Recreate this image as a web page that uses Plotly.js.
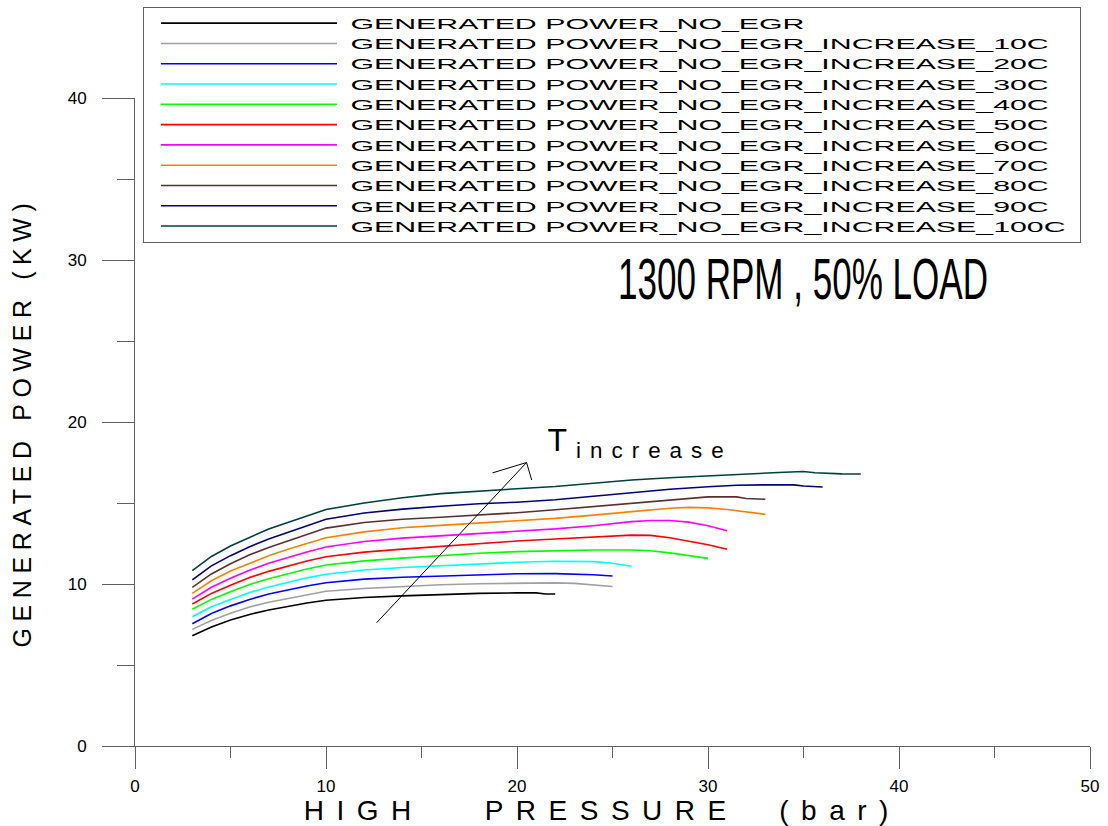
<!DOCTYPE html>
<html>
<head>
<meta charset="utf-8">
<script src="https://cdn.plot.ly/plotly-3.0.1.min.js"></script>
<style>
  html, body { margin: 0; padding: 0; background: #fff; }
  #chart { width: 1108px; height: 826px; }
  .legendtext { transform: scale(2.28, 1.12); transform-box: fill-box; transform-origin: 0 50%; }
  .xtitle { letter-spacing: 12.5px; }
  .ytitle { letter-spacing: 6.6px; }
  .annotation[data-index="0"] .annotation-text { transform: scaleX(0.615); transform-box: fill-box; transform-origin: 50% 50%; }
  .annotation[data-index="1"] .annotation-text { letter-spacing: 9px; }
</style>
</head>
<body>
<div id="chart"></div>
<script>
// ---- data ----
const seriesNames = [
  "GENERATED POWER_NO_EGR",
  "GENERATED POWER_NO_EGR_INCREASE_10C",
  "GENERATED POWER_NO_EGR_INCREASE_20C",
  "GENERATED POWER_NO_EGR_INCREASE_30C",
  "GENERATED POWER_NO_EGR_INCREASE_40C",
  "GENERATED POWER_NO_EGR_INCREASE_50C",
  "GENERATED POWER_NO_EGR_INCREASE_60C",
  "GENERATED POWER_NO_EGR_INCREASE_70C",
  "GENERATED POWER_NO_EGR_INCREASE_80C",
  "GENERATED POWER_NO_EGR_INCREASE_90C",
  "GENERATED POWER_NO_EGR_INCREASE_100C"
];
const seriesColors = ["#000000","#a0a0a0","#0000ff","#00ffff","#00ff00","#ff0000","#ff00ff","#ff8000","#5c3030","#000080","#004040"];

const xNoEgr = [3,4,5,6,7,8,9,10,12,14,16,18,20,21,21.5,22];
const yNoEgr = [6.81,7.35,7.78,8.12,8.4,8.62,8.83,9.0,9.17,9.27,9.35,9.42,9.45,9.45,9.38,9.38];

const x10C = [3,4,5,6,7,8,9,10,12,14,16,18,20,22,23,24,25];
const y10C = [7.2,7.75,8.2,8.58,8.87,9.1,9.32,9.55,9.72,9.85,9.95,10.02,10.05,10.07,10.04,9.95,9.85];

const x20C = [3,4,5,6,7,8,9,10,12,14,16,18,20,22,23,24,25];
const y20C = [7.55,8.18,8.65,9.05,9.38,9.65,9.88,10.08,10.3,10.42,10.5,10.57,10.63,10.64,10.62,10.57,10.49];

const x30C = [3,4,5,6,7,8,9,10,12,14,16,18,20,22,24,25,26];
const y30C = [7.98,8.6,9.05,9.47,9.82,10.12,10.38,10.6,10.86,11.02,11.14,11.24,11.34,11.4,11.38,11.28,11.1];

const x40C = [3,4,5,6,7,8,9,10,12,14,16,18,20,22,24,26,27,28,29,30];
const y40C = [8.44,9.05,9.52,9.97,10.33,10.65,10.93,11.17,11.43,11.6,11.75,11.9,12.0,12.07,12.1,12.1,12.05,11.92,11.75,11.58];

const x50C = [3,4,5,6,7,8,9,10,12,14,16,18,20,22,24,26,27,28,29,30,31];
const y50C = [8.77,9.42,9.92,10.4,10.78,11.12,11.42,11.68,11.97,12.15,12.32,12.47,12.65,12.78,12.9,13.02,13.0,12.85,12.64,12.42,12.14];

const x60C = [3,4,5,6,7,8,9,10,12,14,16,18,20,22,24,26,27,28,29,30,31];
const y60C = [9.07,9.8,10.35,10.85,11.28,11.65,11.98,12.28,12.62,12.83,12.98,13.1,13.25,13.4,13.6,13.85,13.92,13.92,13.82,13.6,13.29];

const x70C = [3,4,5,6,7,8,9,10,12,14,16,18,20,22,24,26,28,29,30,31,32,33];
const y70C = [9.42,10.2,10.8,11.3,11.75,12.15,12.5,12.85,13.22,13.47,13.62,13.75,13.9,14.05,14.25,14.48,14.68,14.73,14.7,14.6,14.45,14.3];

const x80C = [3,4,5,6,7,8,9,10,12,14,16,18,20,22,24,26,28,29,30,31,31.5,32,33];
const y80C = [9.79,10.62,11.25,11.8,12.25,12.65,13.05,13.45,13.8,14.0,14.12,14.25,14.4,14.58,14.78,15.0,15.2,15.32,15.38,15.39,15.38,15.28,15.23];

const x90C = [3,4,5,6,7,8,9,10,12,14,16,18,20,22,24,26,28,30,31.5,33,34.5,35,36];
const y90C = [10.25,11.12,11.75,12.3,12.78,13.2,13.6,14.0,14.38,14.62,14.8,14.95,15.05,15.2,15.42,15.65,15.85,16.0,16.1,16.12,16.12,16.05,15.99];

const x100C = [3,4,5,6,7,8,9,10,12,14,16,18,20,22,24,26,28,30,32,33,34,35,35.6,37,38];
const y100C = [10.82,11.7,12.35,12.9,13.4,13.8,14.2,14.6,15.0,15.32,15.58,15.75,15.88,16.02,16.22,16.42,16.56,16.68,16.8,16.87,16.9,16.94,16.87,16.8,16.79];

const seriesX = [xNoEgr,x10C,x20C,x30C,x40C,x50C,x60C,x70C,x80C,x90C,x100C];
const seriesY = [yNoEgr,y10C,y20C,y30C,y40C,y50C,y60C,y70C,y80C,y90C,y100C];

const xTickVals = [0,10,20,30,40,50];
const yTickVals = [0,10,20,30,40];

// arrow ("T increase") in data units: tail, head, two barbs
const arrowTail = [12.65, 7.61];
const arrowHead = [20.5, 17.5];
const arrowBarbA = [18.72, 16.86];
const arrowBarbB = [20.77, 16.42];

const condText = "1300 RPM , 50% LOAD";
const condPos = [34.97, 28.8];
const tIncText = "T<sub>increase</sub>";
const tIncPos = [26.44, 18.75];

// ---- build chart ----
const NB = "\u00a0";
const ZW = "\u200b";
const traces = seriesNames.map((name, i) => ({
  type: "scatter", mode: "lines", name: NB + name + NB,
  x: seriesX[i], y: seriesY[i],
  line: { color: seriesColors[i], width: 1.6 }
}));

const axisColor = "#606060";
const font = "Liberation Sans, Arial, Helvetica, sans-serif";

const lineShape = (a, b) => ({
  type: "line", xref: "x", yref: "y",
  x0: a[0], y0: a[1], x1: b[0], y1: b[1],
  line: { color: "#000000", width: 1 }
});

const layout = {
  width: 1108, height: 826,
  margin: { l: 135, r: 18, t: 98, b: 80, autoexpand: false },
  paper_bgcolor: "#ffffff", plot_bgcolor: "#ffffff",
  font: { family: font, color: "#000000" },
  showlegend: true,
  legend: {
    x: 8 / 955, y: 739 / 648, xanchor: "left", yanchor: "top",
    bgcolor: "#ffffff", bordercolor: axisColor, borderwidth: 1,
    font: { family: font, size: 13.3, color: "#000000" },
    itemwidth: 176, tracegroupgap: 0, indentation: 12
  },
  xaxis: {
    range: [0, 50], tickvals: xTickVals, ticktext: xTickVals.map(String),
    showline: true, linecolor: axisColor, linewidth: 1,
    ticks: "outside", ticklen: 22, tickcolor: axisColor, tickwidth: 1,
    minor: { ticks: "outside", ticklen: 11, dtick: 5, tick0: 0, tickcolor: axisColor, tickwidth: 1 },
    showgrid: false, zeroline: false,
    tickfont: { family: font, size: 17, color: "#000000" },
    ticklabelstandoff: 3,
    title: { text: "HIGH" + NB + NB + NB + "PRESSURE" + NB + NB + "(bar)" + NB + ZW, font: { family: font, size: 28, color: "#000000" }, standoff: 2 },
    automargin: false
  },
  yaxis: {
    range: [0, 40], tickvals: yTickVals, ticktext: yTickVals.map(String),
    showline: true, linecolor: axisColor, linewidth: 1,
    ticks: "outside", ticklen: 32, tickcolor: axisColor, tickwidth: 1,
    minor: { ticks: "outside", ticklen: 17, dtick: 5, tick0: 0, tickcolor: axisColor, tickwidth: 1 },
    showgrid: false, zeroline: false,
    tickfont: { family: font, size: 17, color: "#000000" },
    ticklabelstandoff: 12,
    title: { text: "GENERATED" + NB + "POWER" + NB + "(KW)" + ZW + ZW, font: { family: font, size: 25, color: "#000000" }, standoff: 28 },
    automargin: false
  },
  shapes: [
    lineShape(arrowTail, arrowHead),
    lineShape(arrowHead, arrowBarbA),
    lineShape(arrowHead, arrowBarbB)
  ],
  annotations: [
    { text: condText, x: condPos[0], y: condPos[1], xref: "x", yref: "y",
      showarrow: false, xanchor: "center", yanchor: "middle",
      font: { family: font, size: 57, color: "#000000" } },
    { text: tIncText, x: tIncPos[0], y: tIncPos[1], xref: "x", yref: "y",
      showarrow: false, xanchor: "center", yanchor: "middle",
      font: { family: font, size: 32, color: "#000000" } }
  ]
};

Plotly.newPlot("chart", traces, layout, { displayModeBar: false, responsive: false });
</script>
</body>
</html>
